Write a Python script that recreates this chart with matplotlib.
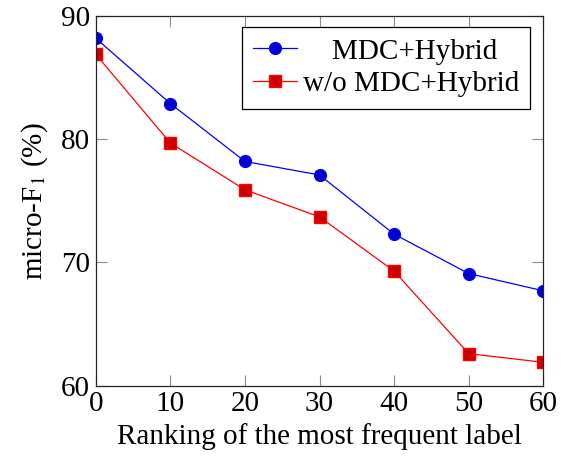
import matplotlib
matplotlib.use("Agg")
import matplotlib.pyplot as plt

# data
ranking = [0, 10, 20, 30, 40, 50, 60]
with_mdc = [88.2, 82.9, 78.2, 77.1, 72.3, 69.1, 67.7]
without_mdc = [86.9, 79.7, 75.9, 73.7, 69.3, 62.6, 61.9]

plt.rcParams['font.family'] = 'Liberation Serif'
plt.rcParams['mathtext.fontset'] = 'stix'
plt.rcParams['font.size'] = 21

fig = plt.figure(figsize=(5.64, 4.59), dpi=100)
ax = fig.add_axes([0.1697, 0.1597, 0.7936, 0.8054])

ax.plot(ranking, with_mdc, color='blue', lw=0.9, marker='o', ms=8.5,
        mfc=(0, 0, 0.8), mec='blue', label='    MDC+Hybrid')
ax.plot(ranking, without_mdc, color='red', lw=0.9, marker='s', ms=8,
        mfc=(0.8, 0, 0), mec='red', label='w/o MDC+Hybrid')

ax.set_xlim(0, 60)
ax.set_ylim(60, 90)
ax.set_xticks(ranking)
ax.set_yticks([60, 70, 80, 90])

# pgfplots-like ticks: inward, on all sides, gray
ax.tick_params(direction='in', length=8, width=0.8, color='0.55',
               top=True, right=True, pad=4)
for s in ax.spines.values():
    s.set_linewidth(0.9)
    s.set_color('0.15')

ax.set_xlabel('Ranking of the most frequent label', labelpad=4)
ax.set_ylabel('micro-F$_1$ (%)', labelpad=8)

leg = ax.legend(loc='upper right', bbox_to_anchor=(0.971, 0.970), borderaxespad=0,
                fancybox=False, edgecolor='black', framealpha=1, borderpad=0.38,
                handlelength=1.5, handletextpad=0.22, labelspacing=0.22,
                fontsize=21)
leg.get_frame().set_linewidth(0.9)

fig.savefig('out.png', dpi=100)
